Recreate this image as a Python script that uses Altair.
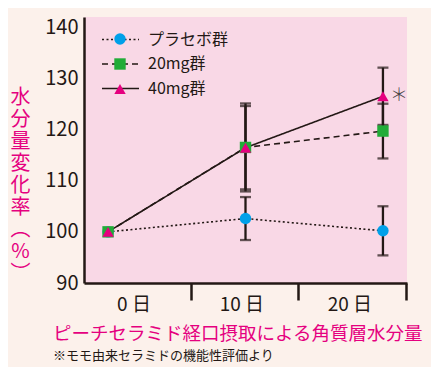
import altair as alt
import pandas as pd

# ---- data ----
groups = ["プラセボ群", "20mg群", "40mg群"]
days = [0, 10, 20]
placebo = [100.0, 102.6, 100.2]
placebo_err = [0.0, 4.2, 4.8]
mg20 = [100.0, 116.5, 119.7]
mg20_err = [0.0, 8.6, 5.35]
mg40 = [100.0, 116.45, 126.5]
mg40_err = [0.0, 8.15, 5.6]

colors = ["#00a0e9", "#22ac38", "#e5007f"]
shapes = ["circle", "square", "triangle-up"]
dashes = [[2, 2.5], [6, 4], [1, 0]]

x_ticks = [6.0, 13.85, 21.7]
x_labels = ["0 日", "10 日", "20 日"]
y_ticks = [90, 100, 110, 120, 130, 140]
y_title = ["水", "分", "量", "変", "化", "率", "︵", "%", "︶"]
title_text = "ピーチセラミド経口摂取による角質層水分量"
subtitle_text = "※モモ由来セラミドの機能性評価より"
star_group = "40mg群"
star_day = 20
star_text = "＊"

FONT = "Noto Sans CJK JP"
INK = "#231815"

marker_keys = [str(i) for i in range(len(groups))]

rows = []
for i, (g, vals, errs) in enumerate(zip(groups, [placebo, mg20, mg40],
                                        [placebo_err, mg20_err, mg40_err])):
    for d, v, e in zip(days, vals, errs):
        rows.append({"day": d, "group": g, "g2": marker_keys[i], "value": v,
                     "lower": v - e, "upper": v + e, "err": e})
df = pd.DataFrame(rows)

star_val = df[(df.group == star_group) & (df.day == star_day)]["value"].iloc[0]
star_df = pd.DataFrame({"day": [star_day], "value": [star_val], "t": [star_text]})

lab_expr = (f"datum.value < {(x_ticks[0] + x_ticks[1]) / 2} ? '{x_labels[0]}' : "
            f"datum.value < {(x_ticks[1] + x_ticks[2]) / 2} ? '{x_labels[1]}' : '{x_labels[2]}'")

x_scale = alt.Scale(domain=[-1.75, 21.75], nice=False, zero=False)
y_scale = alt.Scale(domain=[90, 142], nice=False, zero=False)

x_axis = alt.Axis(values=x_ticks, labelExpr=lab_expr, labelOffset=-57,
                  labelFlush=False, labelOverlap=False, labelBound=False,
                  tickSize=17, tickWidth=2.5, tickColor=INK,
                  domainColor=INK, domainWidth=2.5,
                  labelFont=FONT, labelFontSize=19, labelColor=INK,
                  labelBaseline="middle", labelPadding=4, grid=False, title=None)

y_axis = alt.Axis(values=y_ticks, ticks=False, tickSize=0, grid=False,
                  domainColor=INK, domainWidth=2.5,
                  labelFont=FONT, labelFontSize=20, labelColor=INK, labelPadding=6,
                  title=y_title, titleAngle=0, titleFont=FONT, titleFontSize=20,
                  titleFontWeight="normal", titleColor="#e5007f", titleLineHeight=22,
                  titleX=-64, titleY=80, titleAlign="center", titleBaseline="middle")

def X():
    return alt.X("day:Q", scale=x_scale, axis=x_axis)

lines = alt.Chart(df).mark_line(strokeWidth=1.6, color=INK).encode(
    x=X(),
    y=alt.Y("value:Q", scale=y_scale, axis=y_axis),
    strokeDash=alt.StrokeDash(
        "group:N", scale=alt.Scale(domain=groups, range=dashes),
        legend=alt.Legend(orient="none", legendX=17, legendY=14.5, title=None,
                          symbolType="stroke", symbolSize=1369, symbolStrokeWidth=1.6,
                          symbolStrokeColor=INK, labelFont=FONT, labelFontSize=16,
                          labelColor=INK, labelOffset=8, rowPadding=8.5, padding=0,
                          clipHeight=16)),
    detail="group:N",
)

bars = alt.Chart(df).transform_filter("datum.err > 0").mark_errorbar(
    ticks=True, thickness=2.3, size=11, color=INK
).encode(
    x=X(),
    y=alt.Y("lower:Q", scale=y_scale, axis=y_axis),
    y2="upper:Q",
    detail="group:N",
)

leg_b = alt.Legend(orient="none", legendX=30, legendY=16, title=None,
                   labelExpr="''", symbolSize=130, symbolStrokeWidth=0,
                   symbolOpacity=1, rowPadding=13, padding=0)

points = alt.Chart(df).mark_point(filled=True, size=130, opacity=1).encode(
    x=X(),
    y=alt.Y("value:Q", scale=y_scale, axis=y_axis),
    color=alt.Color("g2:N", scale=alt.Scale(domain=marker_keys, range=colors), legend=leg_b),
    shape=alt.Shape("g2:N", scale=alt.Scale(domain=marker_keys, range=shapes), legend=leg_b),
)

star = alt.Chart(star_df).mark_text(font=FONT, fontSize=18, color="#4a4646",
                                    fontWeight=300, dx=16, baseline="middle").encode(
    x=X(),
    y=alt.Y("value:Q", scale=y_scale, axis=y_axis),
    text="t:N",
)

chart = alt.layer(lines, bars, points, star).properties(
    width=323, height=266,
    autosize=alt.AutoSizeParams(type="none"),
    padding={"left": 76, "top": 9, "right": 24, "bottom": 84},
    background="#fcf1eb",
    title=alt.TitleParams(text=title_text, subtitle=subtitle_text, orient="bottom",
                          anchor="start", frame="group", dx=-31, offset=11,
                          font=FONT, fontSize=18.5, fontWeight="normal", color="#e5007f",
                          subtitleFont=FONT, subtitleFontSize=13, subtitleColor=INK,
                          subtitlePadding=6),
).configure_view(fill="#f9d8e6", stroke=None)

chart.save("out.html", embed_options={"renderer": "svg", "actions": False})
